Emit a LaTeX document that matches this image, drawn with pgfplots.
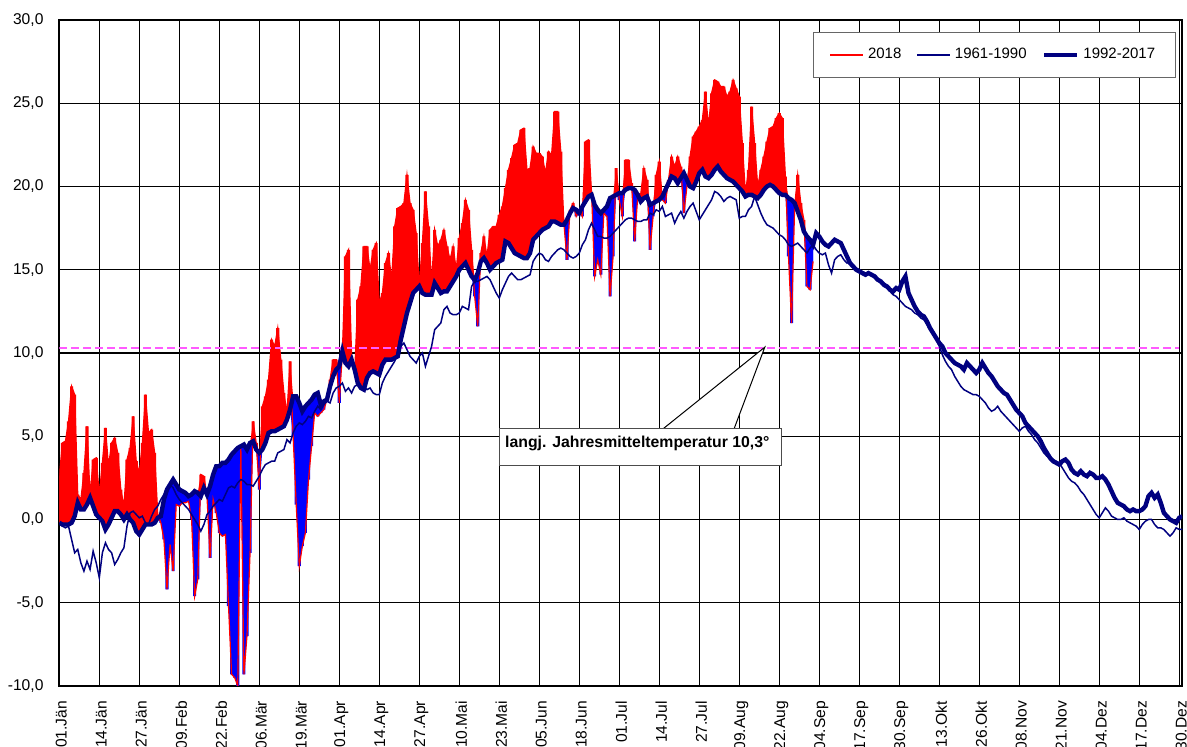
\documentclass[border=0pt]{standalone}
\usepackage{pgfplots}
\pgfplotsset{compat=1.18}
\usepackage{pgfplotstable}
\usepgfplotslibrary{fillbetween}
\usepackage{fontspec}
\setmainfont{Liberation Sans}
\definecolor{navyc}{RGB}{0,0,128}
\definecolor{magc}{RGB}{255,90,255}
\definecolor{redc}{RGB}{255,0,0}
\definecolor{bluec}{RGB}{0,0,255}

\pgfplotstableread{
d M C T
0 -0.2 -0.2 2.5
1 -0.3 -0.4 4.6
2 -0.3 -0.5 4.7
3 -0.3 -0.4 5.9
4 -0.2 -1.2 8.0
5 0.2 -2.0 7.5
6 1.0 -1.8 1.5
7 0.6 -2.6 1.2
8 0.6 -3.1 2.8
9 0.9 -2.5 5.6
10 1.3 -3.0 1.4
11 0.8 -1.9 3.6
12 0.3 -2.6 3.7
13 0.1 -3.5 1.5
14 -0.1 -2.0 3.4
15 -0.6 -1.4 5.5
16 -0.3 -1.8 3.2
17 0.1 -2.0 4.6
18 0.5 -2.7 4.9
19 0.5 -2.4 4.0
20 0.3 -2.0 1.8
21 0.0 -1.7 0.8
22 0.3 -0.4 3.6
23 0.0 0.4 4.3
24 -0.2 0.5 6.2
25 -0.7 0.3 3.5
26 -0.9 0.1 2.8
27 -0.6 0.2 4.6
28 -0.3 -0.2 7.5
29 -0.3 -0.3 5.2
30 -0.3 0.2 5.4
31 -0.2 0.6 4.0
32 0.1 0.8 0.3
33 0.2 1.2 -0.2
34 1.2 1.5 -1.2
35 1.8 1.9 -4.2
36 2.1 2.1 -1.5
37 2.4 1.9 -3.1
38 2.1 1.5 0.9
39 1.8 1.2 0.8
40 1.7 1.0 1.0
41 1.6 0.8 1.0
42 1.4 0.6 1.1
43 1.5 0.3 0.0
44 1.7 0.0 -4.6
45 1.6 -0.3 -3.6
46 1.4 -0.7 2.7
47 1.9 -0.3 2.6
48 1.5 0.3 1.4
49 2.0 0.5 -2.3
50 2.7 0.8 1.2
51 3.2 1.0 0.4
52 3.2 1.2 -0.8
53 3.4 1.1 -1.0
54 3.4 1.5 -0.9
55 3.6 1.9 -5.2
56 3.9 2.0 -9.3
57 4.1 1.9 -9.5
58 4.3 2.2 -10.0
59 4.4 2.4 4.4
60 4.5 2.3 -9.3
61 4.2 2.1 -7.0
62 4.6 2.1 -2.0
63 4.7 2.0 5.9
64 4.2 2.3 4.6
65 4.0 2.6 1.8
66 4.2 3.0 6.8
67 4.6 3.3 7.4
68 5.2 3.4 8.4
69 5.3 3.5 10.8
70 5.3 3.5 10.4
71 5.4 4.0 11.5
72 5.5 4.1 9.6
73 5.6 4.2 7.6
74 6.0 4.8 6.4
75 6.6 4.6 9.5
76 7.4 5.2 5.0
77 7.4 5.6 0.9
78 7.0 5.8 -2.8
79 6.5 5.7 -1.6
80 6.8 5.9 -0.8
81 7.0 6.2 2.4
82 7.2 6.1 4.4
83 7.5 6.5 6.4
84 7.6 6.8 6.2
85 6.9 6.6 6.4
86 7.1 6.9 6.6
87 7.2 7.1 7.2
88 8.0 7.0 8.4
89 8.6 7.6 9.6
90 9.0 7.9 9.6
91 9.2 8.0 7.0
92 10.1 8.2 10.0
93 9.4 7.7 15.8
94 9.2 7.9 16.2
95 9.6 7.6 9.8
96 9.0 8.0 8.8
97 8.2 8.1 13.2
98 7.9 7.9 14.0
99 7.8 8.0 16.4
100 8.5 7.8 16.4
101 8.8 7.9 15.0
102 8.9 7.6 16.2
103 8.8 7.5 16.6
104 8.7 7.5 13.0
105 9.3 8.2 13.6
106 9.6 8.6 15.4
107 9.6 8.9 16.0
108 9.6 9.2 14.4
109 9.7 9.5 17.6
110 9.8 10.0 18.7
111 10.8 10.4 18.8
112 11.6 10.6 19.0
113 12.4 10.2 20.7
114 13.0 9.8 19.0
115 13.6 9.6 18.6
116 13.8 9.4 17.2
117 14.0 9.8 14.0
118 13.6 10.0 16.6
119 13.5 9.2 19.7
120 13.5 9.8 17.6
121 13.5 10.4 14.2
122 14.2 11.4 17.4
123 13.9 11.6 16.4
124 13.6 11.8 16.8
125 13.7 12.6 17.4
126 13.7 12.8 16.4
127 14.0 12.4 15.6
128 14.3 12.3 16.4
129 14.6 12.3 15.0
130 15.0 12.4 16.9
131 15.2 12.8 17.8
132 15.4 12.7 19.2
133 15.0 12.6 18.6
134 14.6 14.0 16.2
135 14.4 14.3 13.4
136 14.8 14.3 11.6
137 15.5 14.4 16.0
138 15.7 14.5 17.0
139 15.4 14.6 15.8
140 15.0 14.4 17.4
141 15.2 14.0 17.6
142 15.4 13.6 17.6
143 15.5 13.3 18.3
144 15.6 13.8 18.8
145 16.7 14.2 19.9
146 16.6 14.6 21.0
147 16.3 14.8 21.7
148 16.0 14.6 22.5
149 15.9 14.4 22.6
150 15.8 14.4 23.4
151 15.7 14.5 23.5
152 15.7 14.6 21.0
153 16.0 14.7 21.1
154 16.8 15.5 22.4
155 17.0 15.8 22.0
156 17.2 16.0 22.0
157 17.4 15.9 21.8
158 17.5 15.6 20.8
159 17.6 15.5 22.1
160 17.9 15.8 21.9
161 17.9 16.0 24.5
162 17.8 16.2 24.5
163 17.7 16.3 22.1
164 17.7 16.2 17.8
165 18.0 16.0 15.6
166 18.4 15.8 18.6
167 18.7 15.7 19.0
168 18.6 15.8 18.2
169 18.4 16.0 18.6
170 18.8 16.5 18.2
171 19.1 16.8 22.7
172 19.4 17.4 22.8
173 19.5 17.8 19.6
174 18.9 17.4 14.6
175 18.6 17.0 15.6
176 18.4 17.0 14.7
177 18.6 16.9 18.4
178 18.8 16.9 18.2
179 19.3 17.0 13.4
180 19.4 17.2 15.8
181 19.5 17.4 21.1
182 19.6 17.6 19.2
183 19.6 17.8 18.2
184 19.8 18.0 21.6
185 19.9 18.1 21.6
186 19.9 18.1 20.2
187 19.8 18.0 16.7
188 19.5 17.9 19.4
189 19.1 17.9 19.6
190 19.3 18.0 21.1
191 19.4 18.0 20.4
192 18.9 18.4 16.2
193 19.0 18.3 18.2
194 19.1 18.6 20.7
195 19.2 18.5 21.5
196 19.4 18.8 19.2
197 19.8 18.2 19.0
198 20.2 18.3 20.4
199 20.6 18.4 21.8
200 20.5 17.8 21.2
201 20.2 18.2 21.8
202 20.5 18.5 21.2
203 20.8 18.1 18.4
204 20.4 18.5 20.0
205 20.0 18.8 21.8
206 19.9 19.0 23.0
207 20.3 18.5 23.3
208 20.8 18.0 23.6
209 21.0 18.3 24.0
210 20.6 18.6 25.7
211 20.5 18.9 23.6
212 20.7 19.2 25.6
213 21.0 19.7 26.4
214 21.2 19.6 26.3
215 20.9 19.4 26.0
216 20.7 19.1 26.0
217 20.5 19.3 25.4
218 20.4 19.4 25.7
219 20.3 19.3 26.4
220 20.1 19.2 25.9
221 19.9 18.1 25.4
222 19.7 18.2 22.6
223 19.4 18.2 19.6
224 19.5 18.6 21.0
225 19.5 18.8 24.8
226 19.4 19.4 22.6
227 19.3 18.9 20.0
228 19.5 18.4 21.0
229 19.8 18.0 21.8
230 20.0 17.7 22.7
231 20.1 17.6 23.5
232 20.0 17.5 23.6
233 19.8 17.3 24.1
234 19.6 17.1 24.4
235 19.5 17.0 24.1
236 19.5 16.8 20.6
237 19.3 16.5 15.8
238 19.2 16.4 11.8
239 19.0 16.5 18.8
240 18.5 16.6 20.7
241 18.0 16.4 19.0
242 17.3 16.2 18.0
243 17.0 16.0 14.0
244 16.8 16.3 13.8
245 16.5 16.5 15.5
246 17.2 16.2 nan
247 17.0 16.0 nan
248 16.7 15.9 nan
249 16.5 16.0 nan
250 16.4 15.3 nan
251 16.6 14.8 nan
252 16.8 15.6 nan
253 16.7 15.8 nan
254 16.6 15.9 nan
255 16.2 15.6 nan
256 15.8 15.4 nan
257 15.4 15.5 nan
258 15.2 15.3 nan
259 15.0 15.1 nan
260 14.9 15.0 nan
261 14.8 14.9 nan
262 14.7 14.8 nan
263 14.8 14.8 nan
264 14.7 14.7 nan
265 14.6 14.5 nan
266 14.4 14.4 nan
267 14.3 14.2 nan
268 14.1 14.0 nan
269 14.0 13.9 nan
270 13.8 13.7 nan
271 13.7 13.5 nan
272 13.9 13.4 nan
273 13.8 13.2 nan
274 14.3 13.0 nan
275 14.6 12.8 nan
276 13.6 12.7 nan
277 13.2 12.6 nan
278 12.8 12.4 nan
279 12.5 12.3 nan
280 12.3 12.1 nan
281 12.2 12.0 nan
282 11.9 11.7 nan
283 11.5 11.4 nan
284 11.2 11.1 nan
285 10.9 10.8 nan
286 10.6 10.4 nan
287 10.4 9.9 nan
288 10.0 9.5 nan
289 9.8 9.2 nan
290 9.6 9.0 nan
291 9.4 8.6 nan
292 9.3 8.3 nan
293 9.2 8.0 nan
294 9.0 7.8 nan
295 9.4 7.7 nan
296 9.2 7.6 nan
297 9.0 7.5 nan
298 8.8 7.5 nan
299 9.0 7.4 nan
300 9.4 7.2 nan
301 9.1 7.0 nan
302 8.8 6.7 nan
303 8.6 6.5 nan
304 8.3 6.6 nan
305 8.0 6.8 nan
306 7.8 6.5 nan
307 7.6 6.3 nan
308 7.5 6.1 nan
309 7.2 5.9 nan
310 6.9 5.7 nan
311 6.6 5.5 nan
312 6.4 5.3 nan
313 6.2 5.5 nan
314 5.8 5.6 nan
315 5.6 5.3 nan
316 5.4 5.1 nan
317 5.2 4.8 nan
318 5.0 4.6 nan
319 4.7 4.3 nan
320 4.3 4.0 nan
321 4.0 3.8 nan
322 3.7 3.7 nan
323 3.5 3.6 nan
324 3.4 3.5 nan
325 3.3 3.4 nan
326 3.5 3.1 nan
327 3.6 2.8 nan
328 3.4 2.5 nan
329 3.0 2.3 nan
330 2.8 2.2 nan
331 2.7 2.0 nan
332 2.9 1.7 nan
333 2.7 1.5 nan
334 2.6 1.2 nan
335 2.8 0.9 nan
336 2.7 0.6 nan
337 2.5 0.3 nan
338 2.5 0.1 nan
339 2.6 0.4 nan
340 2.4 0.7 nan
341 2.1 0.5 nan
342 1.7 0.2 nan
343 1.3 0.1 nan
344 1.0 0.0 nan
345 0.9 0.0 nan
346 0.8 0.1 nan
347 0.6 -0.1 nan
348 0.5 -0.2 nan
349 0.6 -0.3 nan
350 0.5 -0.4 nan
351 0.5 -0.6 nan
352 0.6 -0.3 nan
353 0.8 -0.1 nan
354 1.4 0.0 nan
355 1.6 0.0 nan
356 1.3 -0.3 nan
357 1.5 -0.5 nan
358 1.0 -0.5 nan
359 0.4 -0.6 nan
360 0.2 -0.8 nan
361 0.0 -1.0 nan
362 -0.1 -0.8 nan
363 -0.2 -0.5 nan
364 0.1 -0.6 nan
365 0.2 -0.6 nan
}\data

\begin{document}
\begin{tikzpicture}[x=1pt,y=1pt]
\begin{axis}[
  at={(0,0)}, anchor=south west,
  scale only axis, width=561.5pt, height=333pt,
  xmin=0, xmax=365, ymin=-10, ymax=30,
  xtick={0,13,...,364},
  xticklabels={01.Jän,14.Jän,27.Jän,09.Feb,22.Feb,06.Mär,19.Mär,01.Apr,14.Apr,27.Apr,10.Mai,23.Mai,05.Jun,18.Jun,01.Jul,14.Jul,27.Jul,09.Aug,22.Aug,04.Sep,17.Sep,30.Sep,13.Okt,26.Okt,08.Nov,21.Nov,04.Dez,17.Dez,30.Dez},
  ytick={-10,-5,...,30},
  grid=major,
  major grid style={black, line width=0.6pt},
  axis line style={black, line width=1pt},
  major tick length=0pt,
  tick style={draw=none},
  ticklabel style={font=\fontsize{7.8}{9}\selectfont},
  yticklabel style={xshift=-4.4pt, /pgf/number format/.cd, fixed, fixed zerofill, precision=1, use comma, assume math mode=true},
  xticklabel style={yshift=-4.0pt, xshift=1pt, rotate=90, anchor=east},
  legend style={at={(rel axis cs:0.9941,0.9824)}, anchor=north east, draw=black!60, line width=0.5pt, fill=white,
    font=\fontsize{7.5}{9}\selectfont, inner xsep=8pt, inner ysep=6pt,
    /tikz/every even column/.append style={column sep=5.5pt}},
  legend columns=3,
  legend cell align=left,
  legend image code/.code={\draw[#1] (0pt,0pt) -- (16.5pt,0pt);},
  unbounded coords=discard,
]
\addplot[redc, line width=0.6pt, restrict x to domain=0:245, forget plot] table[x=d, y=T] {\data};
% step (bar-like) paths
\addplot[draw=none, const plot mark mid, name path=up, forget plot, restrict x to domain=0:245] table[x=d, y expr={max(\thisrow{T},\thisrow{M})}] {\data};
\addplot[draw=none, const plot mark mid, name path=lo, forget plot, restrict x to domain=0:245] table[x=d, y expr={min(\thisrow{T},\thisrow{M})}] {\data};
\addplot[draw=none, const plot mark mid, name path=mm, forget plot, restrict x to domain=0:245] table[x=d, y=M] {\data};
% linear paths
\addplot[draw=none, name path=upL, forget plot, restrict x to domain=0:245] table[x=d, y expr={max(\thisrow{T},\thisrow{M})}] {\data};
\addplot[draw=none, name path=loL, forget plot, restrict x to domain=0:245] table[x=d, y expr={min(\thisrow{T},\thisrow{M})}] {\data};
\addplot[draw=none, name path=mmL, forget plot, restrict x to domain=0:245] table[x=d, y=M] {\data};
\addplot[fill=redc, draw=none, forget plot] fill between[of=upL and mmL];
\addplot[fill=redc, draw=none, forget plot] fill between[of=up and mm];
\addplot[fill=bluec, draw=none, forget plot] fill between[of=loL and mmL];
\addplot[fill=bluec, draw=none, forget plot] fill between[of=lo and mm];
\addplot[magc, dashed, dash pattern=on 4pt off 2pt, line width=0.85pt, forget plot] coordinates {(0,10.3) (364,10.3)};
\addplot[navyc, line width=0.75pt, forget plot] table[x=d, y=C] {\data};
\addplot[navyc, line width=2.2pt, forget plot] table[x=d, y=M] {\data};
\addlegendimage{color=redc, line width=0.6pt}
\addlegendentry{2018}
\addlegendimage{color=navyc, line width=0.75pt}
\addlegendentry{1961-1990}
\addlegendimage{color=navyc, line width=2.4pt}
\addlegendentry{1992-2017}
\draw[black, line width=0.5pt, fill=white] (axis cs:196.2,5.44) -- (axis cs:229.3,10.35) -- (axis cs:219.3,5.44);
\draw[black!70, line width=0.5pt, fill=white] (axis cs:143.2,3.27) rectangle (axis cs:234.6,5.44);
\node[anchor=base west, inner sep=0pt, font=\fontsize{7.9}{9}\selectfont\bfseries] at (axis cs:144.8,4.35) {langj. Jahresmitteltemperatur 10,3°};
\end{axis}
\pgfresetboundingbox
\path[use as bounding box] (-29.65,-30.5) rectangle (563.85,343);
\end{tikzpicture}
\end{document}
